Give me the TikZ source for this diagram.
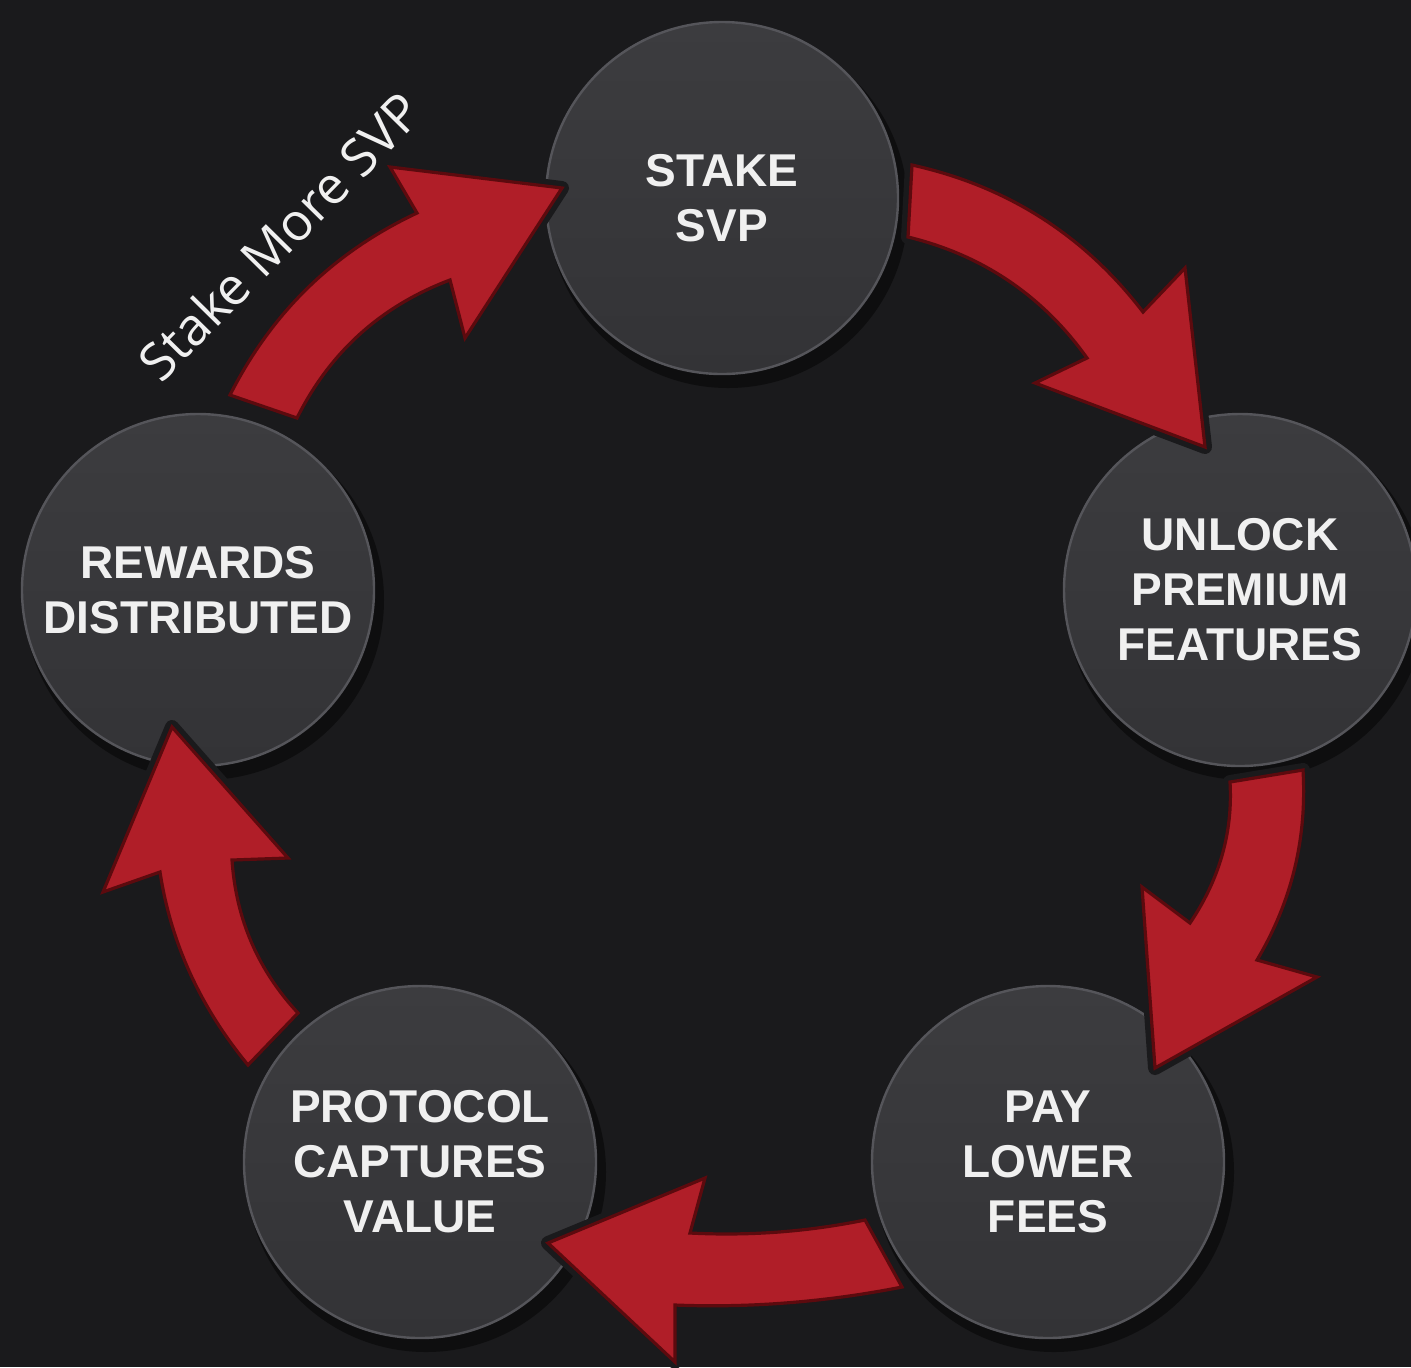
\documentclass[tikz,border=0pt]{standalone}
\usepackage{fontspec}
\setmainfont{Liberation Sans}
\newfontfamily\labelfont{Open Sans}
\definecolor{bg}{HTML}{1A1A1C}
\definecolor{disctop}{HTML}{3C3C3F}
\definecolor{discbot}{HTML}{333336}
\definecolor{rim}{HTML}{55555A}
\definecolor{redf}{HTML}{B01E28}
\definecolor{redd}{HTML}{5C0A0E}
\definecolor{txt}{HTML}{F0F0F0}
\def\arrowA{(912,165) .. controls (1007,186) and (1084,235) .. (1143,312) -- (1185,268) -- (1205,447) -- (1035,383) -- (1087,358) .. controls (1042,295) and (982,255) .. (908,237) -- cycle}
\def\arrowB{(1303,770) -- (1230,782) .. controls (1233,833) and (1219,880) .. (1190,923) -- (1142,887) -- (1155,1068) -- (1317,977) -- (1257,960) .. controls (1292,901) and (1307,838) .. cycle}
\def\arrowC{(865,1220) .. controls (806,1232) and (748,1236) .. (690,1233) -- (705,1178) -- (548,1243) -- (675,1362) -- (675,1305) .. controls (750,1308) and (826,1302) .. (902,1287) -- cycle}
\def\arrowD{(298,1013) .. controls (258,970) and (236,919) .. (232,860) -- (288,858) -- (172,727) -- (103,892) -- (160,872) .. controls (171,944) and (201,1008) .. (248,1065) -- cycle}
\def\arrowE{(230,395) .. controls (272,312) and (334,252) .. (417,213) -- (390,167) -- (562,188) -- (465,338) -- (450,280) .. controls (381,306) and (330,352) .. (297,418) -- cycle}
\begin{document}
\begin{tikzpicture}[x=0.5pt,y=-0.5pt,
  stage/.style={circle, minimum size=176pt, inner sep=0pt, top color=disctop,
    bottom color=discbot, draw=rim, line width=1.2pt, text=txt, align=center,
    font=\bfseries\fontsize{23}{27.5}\selectfont},
  gap/.style={draw=bg, fill=bg, line width=7pt, line join=round},
  blockarrow/.style={fill=redf, draw=redd, line width=1.6pt, line join=miter},
  shade/.style={fill=black, opacity=0.45}]
\fill[bg] (0,0) rectangle (1411,1367);
\useasboundingbox (0,0) rectangle (1411,1367);
% soft shadows under the discs
\fill[shade] (728,208) circle[radius=180];
\fill[shade] (1246,600) circle[radius=180];
\fill[shade] (1054,1172) circle[radius=180];
\fill[shade] (426,1172) circle[radius=180];
\fill[shade] (204,600) circle[radius=180];
% discs
\node[stage] (stake) at (722,198) {STAKE\\SVP};
\node[stage] (unlock) at (1240,590) {UNLOCK\\PREMIUM\\FEATURES};
\node[stage] (pay) at (1048,1162) {PAY\\LOWER\\FEES};
\node[stage] (proto) at (420,1162) {PROTOCOL\\CAPTURES\\VALUE};
\node[stage] (rewards) at (198,590) {REWARDS\\DISTRIBUTED};
% block arrows
\draw[gap] \arrowA; \draw[blockarrow] \arrowA;
\draw[gap] \arrowB; \draw[blockarrow] \arrowB;
\draw[gap] \arrowC; \draw[blockarrow] \arrowC;
\draw[gap] \arrowD; \draw[blockarrow] \arrowD;
\draw[gap] \arrowE; \draw[blockarrow] \arrowE;
% label
\node[rotate=45.5, text=txt, inner sep=0pt, font=\labelfont\fontsize{26}{30}\selectfont] (lbl) at (280,236) {Stake More SVP};
\end{tikzpicture}
\end{document}
